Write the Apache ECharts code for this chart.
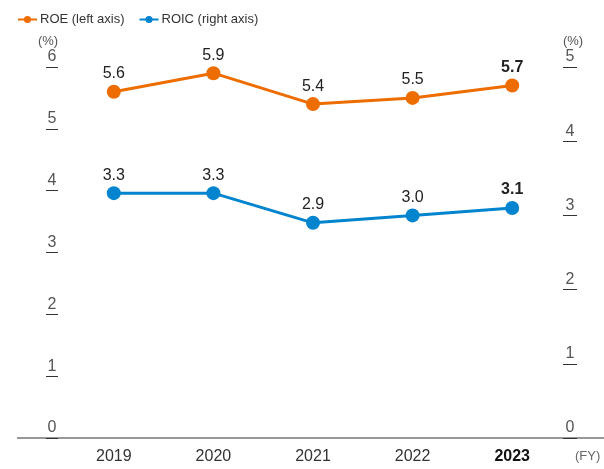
<!DOCTYPE html>
<html>
<head>
<meta charset="utf-8">
<script src="https://cdn.jsdelivr.net/npm/echarts@6/dist/echarts.min.js"></script>
<style>
html, body { margin: 0; padding: 0; background: #fff; }
#chart { width: 604px; height: 469px; }
</style>
</head>
<body>
<div id="chart"></div>
<script>
// fiscal years
var years = ['2019', '2020', '2021', '2022', '2023']
// ROE, left axis (%)
var roe = [5.6, 5.9, 5.4, 5.5, 5.7]
// ROIC, right axis (%)
var roic = [3.3, 3.3, 2.9, 3.0, 3.1]

var font = '"Liberation Sans", Arial, sans-serif'
var orange = '#ED6D00'
var blue = '#0284CE'

function labelOf(last) {
  return {
    show: true,
    position: 'top',
    distance: 3,
    fontFamily: font,
    fontSize: 16,
    color: '#222',
    fontWeight: last ? 'bold' : 'normal',
    formatter: function (p) { return p.value.toFixed(1) }
  }
}

function points(values) {
  return values.map(function (v, i) {
    return { value: v, label: labelOf(i === values.length - 1) }
  })
}

var chart = echarts.init(document.getElementById('chart'))
chart.setOption({
  animation: false,
  textStyle: { fontFamily: font },
  legend: {
    left: 12,
    top: 8,
    itemWidth: 19,
    itemHeight: 9,
    itemGap: 14,
    textStyle: { fontFamily: font, fontSize: 13, color: '#333', padding: [0, 0, 0, -2] },
    data: ['ROE (left axis)', 'ROIC (right axis)']
  },
  grid: { left: 64, right: 42, top: 67, bottom: 31 },
  xAxis: {
    type: 'category',
    data: years,
    axisLine: { show: false },
    axisTick: { show: false },
    axisLabel: {
      margin: 11,
      fontSize: 16,
      color: '#333',
      formatter: function (v) {
        return v === years[years.length - 1] ? '{b|' + v + '}' : v
      },
      rich: { b: { fontSize: 16, fontWeight: 'bold', color: '#111', fontFamily: font } }
    },
    name: '(FY)',
    nameLocation: 'end',
    nameGap: 13,
    nameTextStyle: { fontSize: 13, color: '#666', verticalAlign: 'top', padding: [12, 0, 0, 0] }
  },
  yAxis: [{
    type: 'value',
    min: 0,
    max: 6,
    interval: 1,
    offset: 6,
    splitLine: { show: false },
    axisLine: { show: false },
    axisTick: { show: true, length: 12, lineStyle: { color: '#333', width: 1 } },
    axisLabel: {
      margin: 6,
      align: 'center',
      verticalAlign: 'bottom',
      padding: [0, 0, 2, 0],
      fontSize: 16,
      color: '#555'
    },
    name: '(%)',
    nameGap: 19,
    nameTextStyle: { fontSize: 13, color: '#555', align: 'center', padding: [0, 20, 0, 0] }
  }, {
    type: 'value',
    min: 0,
    max: 5,
    interval: 1,
    offset: 1,
    splitLine: { show: false },
    axisLine: { show: false },
    axisTick: { show: true, length: 14, lineStyle: { color: '#333', width: 1 } },
    axisLabel: {
      margin: 7,
      align: 'center',
      verticalAlign: 'bottom',
      padding: [0, 0, 2, 0],
      fontSize: 16,
      color: '#555'
    },
    name: '(%)',
    nameGap: 19,
    nameTextStyle: { fontSize: 13, color: '#555', align: 'center', padding: [0, 0, 0, 20] }
  }],
  graphic: [{
    type: 'line',
    shape: { x1: 17, y1: 438, x2: 604, y2: 438 },
    style: { stroke: '#333', lineWidth: 1.2 },
    z: 10
  }],
  series: [{
    name: 'ROE (left axis)',
    type: 'line',
    yAxisIndex: 0,
    data: points(roe),
    symbol: 'circle',
    symbolSize: 14,
    itemStyle: { color: orange },
    lineStyle: { color: orange, width: 3 }
  }, {
    name: 'ROIC (right axis)',
    type: 'line',
    yAxisIndex: 1,
    data: points(roic),
    symbol: 'circle',
    symbolSize: 14,
    itemStyle: { color: blue },
    lineStyle: { color: blue, width: 3 }
  }]
})
</script>
</body>
</html>
